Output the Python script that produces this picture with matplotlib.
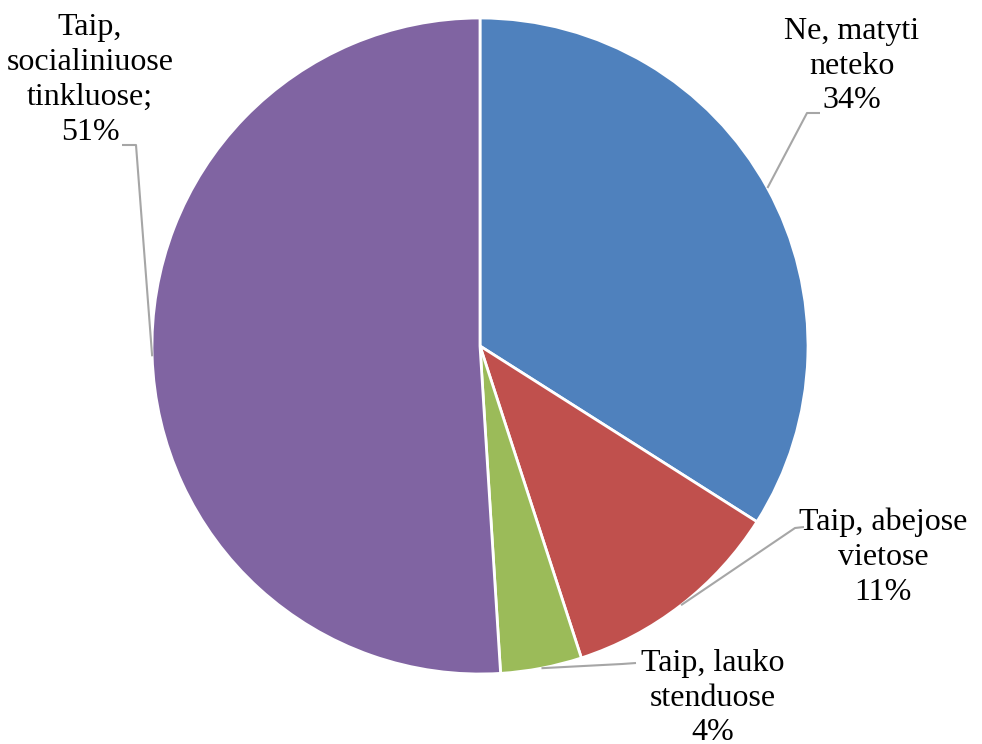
import numpy as np
import matplotlib
matplotlib.use("Agg")
import matplotlib.pyplot as plt

# data
labels = ["Ne, matyti\nneteko", "Taip, abejose\nvietose", "Taip, lauko\nstenduose", "Taip,\nsocialiniuose\ntinkluose;"]
values = [34, 11, 4, 51]
colors = ["#4F81BD", "#C0504D", "#9BBB59", "#8064A2"]

W, H = 982, 744
plt.rcParams["font.family"] = ["Liberation Serif", "DejaVu Serif"]

fig = plt.figure(figsize=(W / 100, H / 100), dpi=100)
ax = fig.add_axes([0, 0, 1, 1])

cx, cy, r = 480, H - 346, 328
wedges, _ = ax.pie(values, colors=colors, startangle=90, counterclock=False,
                   center=(cx, cy), radius=r, frame=True,
                   wedgeprops=dict(edgecolor="white", linewidth=2))
ax.set_xlim(0, W)
ax.set_ylim(0, H)
ax.set_aspect("equal")
ax.axis("off")

# label layout in pixel coords (x, y from top): text center, elbow, line end
layout = [
    ((852, 66), (807, 113), (820, 113)),
    ((883, 557), (795, 528), (804, 527)),
    ((713, 698), (622, 664), (636, 663)),
    ((90, 80), (136, 145), (122, 145)),
]

for w, lab, val, (txt, elbow, end) in zip(wedges, labels, values, layout):
    mid = np.deg2rad((w.theta1 + w.theta2) / 2)
    ex, ey = cx + r * np.cos(mid), cy + r * np.sin(mid)
    ax.plot([ex, elbow[0], end[0]], [ey, H - elbow[1], H - end[1]],
            color="#A6A6A6", lw=1.5, solid_capstyle="butt", zorder=1)
    ax.text(txt[0], H - txt[1], f"{lab}\n{val}%", ha="center", va="center",
            fontsize=23, linespacing=1.27, color="black")

fig.savefig("out.png", dpi=100, facecolor="white")
